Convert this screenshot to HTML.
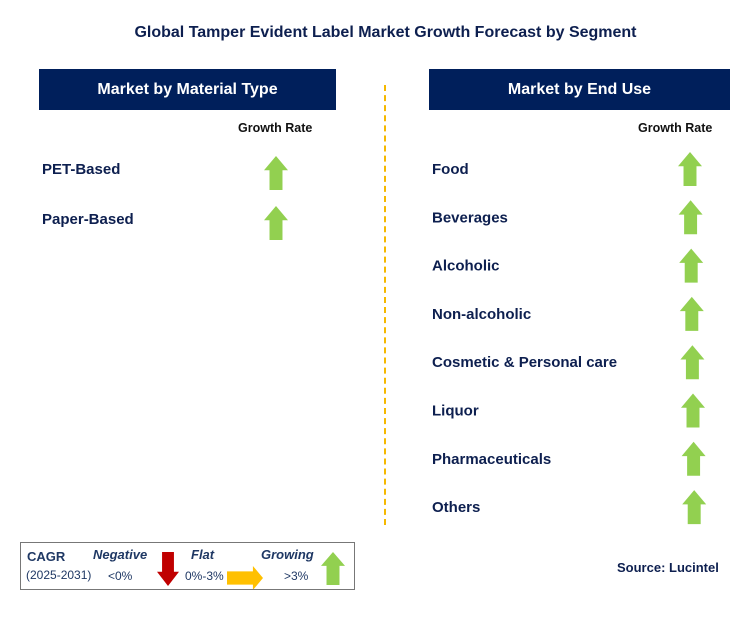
<!DOCTYPE html>
<html><head><meta charset="utf-8"><style>
body{margin:0;width:745px;height:617px;background:#fff;overflow:hidden;position:relative;font-family:"Liberation Sans",sans-serif}
.a{position:absolute}
.h{background:#001f5b;color:#fff;font-weight:bold;font-size:16px;text-align:center;line-height:41px;height:41px}
.c{font-family:"Liberation Sans",sans-serif;font-weight:bold;font-size:12.5px;color:#111}
</style></head><body>
<div class="a" style="left:13px;width:745px;top:24px;text-align:center;font-weight:bold;font-size:16px;color:#0d1f4f">Global Tamper Evident Label Market Growth Forecast by Segment</div>
<div class="a h" style="left:39px;top:69px;width:297px">Market by Material Type</div>
<div class="a h" style="left:429px;top:69px;width:301px">Market by End Use</div>
<div class="a c" style="left:238px;top:121px">Growth Rate</div>
<div class="a c" style="left:638px;top:121px">Growth Rate</div>
<div class="a" style="left:384px;top:85px;height:440px;border-left:2px dashed #f5b800"></div>
<svg class="a" id="svg" style="left:0;top:0" width="745" height="617"></svg>
<div class="a" style="left:20px;top:542px;width:333px;height:46px;border:1px solid #777"></div>
<div class="a" style="left:27px;top:549px;font-weight:bold;font-size:13px;color:#1f3864">CAGR</div>
<div class="a" style="left:26px;top:568px;font-size:12px;color:#1f3864">(2025-2031)</div>
<div class="a" style="left:93px;top:547px;font-weight:bold;font-style:italic;font-size:13px;color:#1f3864">Negative</div>
<div class="a" style="left:108px;top:569px;font-size:12px;color:#1f3864">&lt;0%</div>
<div class="a" style="left:191px;top:547px;font-weight:bold;font-style:italic;font-size:13px;color:#1f3864">Flat</div>
<div class="a" style="left:185px;top:569px;font-size:12px;color:#1f3864">0%-3%</div>
<div class="a" style="left:261px;top:547px;font-weight:bold;font-style:italic;font-size:13px;color:#1f3864">Growing</div>
<div class="a" style="left:284px;top:569px;font-size:12px;color:#1f3864">&gt;3%</div>
<div class="a" style="left:617px;top:560px;font-family:'Liberation Sans',sans-serif;font-weight:bold;font-size:13px;color:#0d1f4f">Source: Lucintel</div>
<script>
const materialSegments=["PET-Based","Paper-Based"];
const materialTrend=["up","up"];
const endUseSegments=["Food","Beverages","Alcoholic","Non-alcoholic","Cosmetic & Personal care","Liquor","Pharmaceuticals","Others"];
const endUseTrend=["up","up","up","up","up","up","up","up"];
const svg=document.getElementById('svg');
const NS='http://www.w3.org/2000/svg';
function arrow(cx,top,w,h,dir,color,name){
  const p=document.createElementNS(NS,'polygon');
  const hw=w/2,sw=w*0.27,hh=h*0.42;let pts;
  if(dir==='up')pts=[[cx,top],[cx+hw,top+hh],[cx+sw,top+hh],[cx+sw,top+h],[cx-sw,top+h],[cx-sw,top+hh],[cx-hw,top+hh]];
  else if(dir==='down')pts=[[cx,top+h],[cx+hw,top+h-hh],[cx+sw,top+h-hh],[cx+sw,top],[cx-sw,top],[cx-sw,top+h-hh],[cx-hw,top+h-hh]];
  else {const l=cx-w/2,mid=top+h/2;pts=[[l+w,mid],[l+w-hh,mid-h/2],[l+w-hh,mid-h/2*0.55],[l,mid-h/2*0.55],[l,mid+h/2*0.55],[l+w-hh,mid+h/2*0.55],[l+w-hh,mid+h/2]];}
  p.setAttribute('points',pts.map(q=>q.join(',')).join(' '));
  p.setAttribute('fill',color);
  
  
  svg.appendChild(p);
}
function label(x,y,txt,name){
  const t=document.createElementNS(NS,'text');
  t.setAttribute('x',x);t.setAttribute('y',y);
  t.setAttribute('font-family','Liberation Sans, sans-serif');t.setAttribute('font-weight','bold');t.setAttribute('font-size','15');t.setAttribute('fill','#0d1f4f');
  t.textContent=txt;
  
  
  svg.appendChild(t);
}
const colors={up:'#92d050',down:'#c00000',flat:'#ffc000'};
materialSegments.forEach((s,i)=>{
  const y=169+i*50;
  label(42,y+5,s,'material-label');
  arrow(276,y-13,24,34,materialTrend[i],colors[materialTrend[i]],'material-arrow');
});
endUseSegments.forEach((s,i)=>{
  const y=169+i*48.3;
  label(432,y+5,s,'end-use-label');
  arrow(690+i*0.6,y-17,24,34,endUseTrend[i],colors[endUseTrend[i]],'end-use-arrow');
});
arrow(168,552,22,34,'down',colors.down,'legend-negative-arrow');
arrow(245,566,36,24,'flat',colors.flat,'legend-flat-arrow');
arrow(333,552,24,33,'up',colors.up,'legend-growing-arrow');
</script>
</body></html>
